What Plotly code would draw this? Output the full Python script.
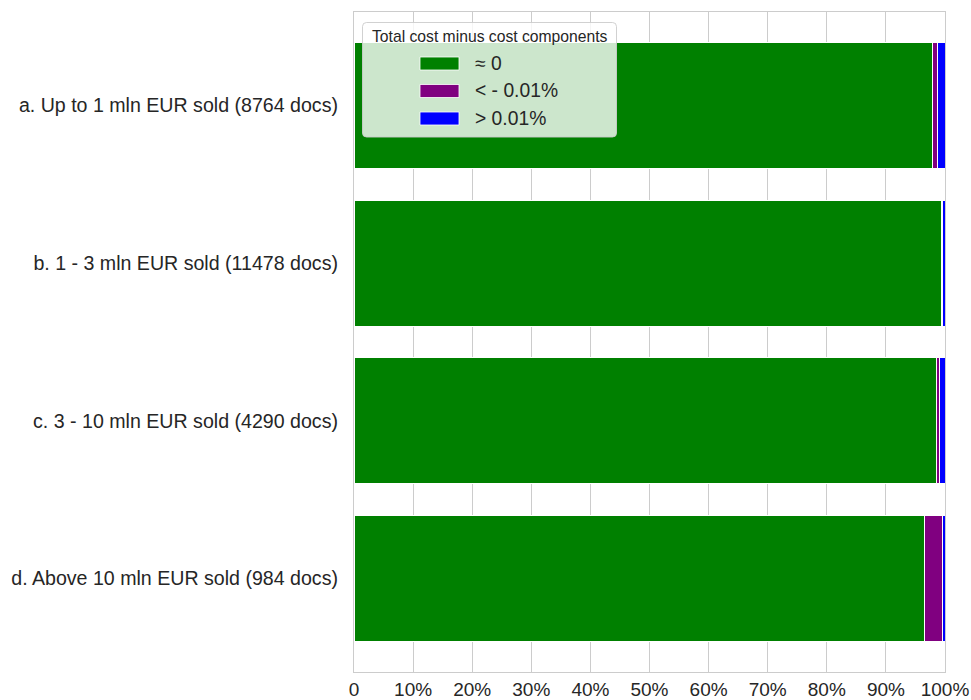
import plotly.graph_objects as go

# Share of documents (%) by difference between total cost and the sum of its components
groups = [
    "a. Up to 1 mln EUR sold (8764 docs)",
    "b. 1 - 3 mln EUR sold (11478 docs)",
    "c. 3 - 10 mln EUR sold (4290 docs)",
    "d. Above 10 mln EUR sold (984 docs)",
]
series_names = ["≈ 0", "< - 0.01%", "> 0.01%"]
share_zero = [97.9, 99.45, 98.5, 96.5]
share_below = [0.85, 0.15, 0.6, 3.1]
share_above = [1.25, 0.4, 0.9, 0.4]
series_colors = ["#008000", "#800080", "#0000ff"]
x_tick_vals = [0, 10, 20, 30, 40, 50, 60, 70, 80, 90, 100]
x_tick_text = ["0", "10%", "20%", "30%", "40%", "50%", "60%", "70%", "80%", "90%", "100%"]
legend_title = "Total cost minus cost components"

W, H = 971, 700
M_L, M_R, M_T, M_B = 354, 26, 12, 28
PW, PH = W - M_L - M_R, H - M_T - M_B

FONT = "Liberation Sans, Arial, sans-serif"
TEXT = "#262626"
GRID = "#cccccc"
LABEL_SIZE = 19.3

fig = go.Figure()
for name, vals, col in zip(series_names, [share_zero, share_below, share_above], series_colors):
    fig.add_trace(go.Bar(
        y=groups, x=vals, name=name, orientation="h",
        marker=dict(color=col, line=dict(color="white", width=1)),
        showlegend=False,
    ))


def px_x(px):
    return (px - M_L) / PW


def px_y(py):
    return 1 - (py - M_T) / PH


# legend panel drawn in paper coordinates
x0, x1, y0, y1, r = px_x(362.5), px_x(616.5), px_y(22.5), px_y(137), 4
rx, ry = r / PW, r / PH
path = (f"M {x0+rx},{y0} L {x1-rx},{y0} Q {x1},{y0} {x1},{y0-ry} "
        f"L {x1},{y1+ry} Q {x1},{y1} {x1-rx},{y1} L {x0+rx},{y1} "
        f"Q {x0},{y1} {x0},{y1+ry} L {x0},{y0-ry} Q {x0},{y0} {x0+rx},{y0} Z")
shapes = [dict(type="path", path=path, xref="paper", yref="paper",
               fillcolor="rgba(255,255,255,0.8)", line=dict(color="rgba(204,204,204,0.9)", width=1),
               layer="above")]
annotations = [dict(text=legend_title, x=px_x(490), y=px_y(36), xref="paper", yref="paper",
                    showarrow=False, xanchor="center", yanchor="middle",
                    font=dict(family=FONT, size=15.7, color=TEXT))]
row_y = [63.5, 91, 118.5]
for name, col, cy in zip(series_names, series_colors, row_y):
    shapes.append(dict(type="rect", xref="paper", yref="paper",
                       x0=px_x(420), x1=px_x(459), y0=px_y(cy - 6.5), y1=px_y(cy + 6.5),
                       fillcolor=col, line=dict(color="rgba(255,255,255,0.8)", width=1), layer="above"))
    annotations.append(dict(text=name, x=px_x(473), y=px_y(cy), xref="paper", yref="paper",
                            showarrow=False, xanchor="left", yanchor="middle",
                            font=dict(family=FONT, size=LABEL_SIZE, color=TEXT)))

fig.update_layout(
    width=W, height=H,
    margin=dict(l=M_L, r=M_R, t=M_T, b=M_B, pad=0),
    barmode="stack", bargap=0.2,
    plot_bgcolor="white", paper_bgcolor="white",
    font=dict(family=FONT, size=LABEL_SIZE, color=TEXT),
    shapes=shapes, annotations=annotations,
    xaxis=dict(range=[0, 100], tickvals=x_tick_vals, ticktext=x_tick_text,
               showgrid=True, gridcolor=GRID, gridwidth=1, zeroline=False,
               showline=True, linecolor=GRID, linewidth=1.2, mirror=True,
               ticks="", tickfont=dict(size=19, color=TEXT), automargin=False),
    yaxis=dict(type="category", range=[3.593, -0.593], showgrid=False, zeroline=False,
               showline=True, linecolor=GRID, linewidth=1.2, mirror=True,
               ticks="outside", ticklen=11, tickcolor="rgba(0,0,0,0)",
               tickfont=dict(size=19.6, color=TEXT), automargin=False),
)

fig.write_html("out.html")
